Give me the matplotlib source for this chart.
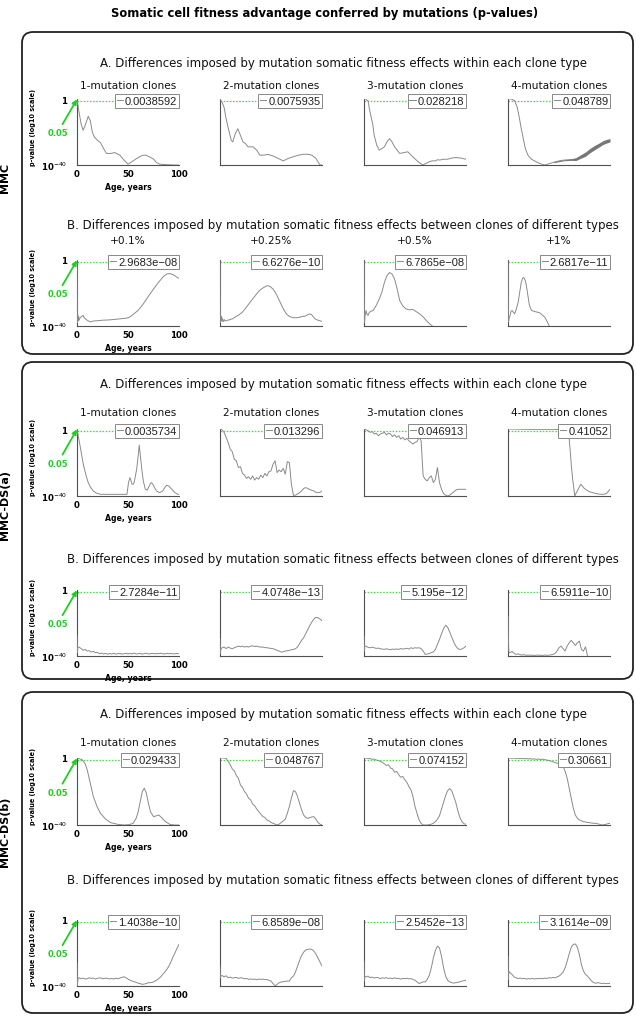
import numpy as np
import matplotlib
matplotlib.use("Agg")
import matplotlib.pyplot as plt
from matplotlib.patches import FancyBboxPatch
from matplotlib.ticker import NullLocator

# ---------------- texts ----------------
TITLE = "Somatic cell fitness advantage conferred by mutations (p-values)"
MODELS = ["MMC", "MMC-DS(a)", "MMC-DS(b)"]
SECTION_A = "A. Differences imposed by mutation somatic fitness effects within each clone type"
SECTION_B = "B. Differences imposed by mutation somatic fitness effects between clones of different types"
CLONE_TITLES = ["1-mutation clones", "2-mutation clones", "3-mutation clones", "4-mutation clones"]
EFFECT_TITLES = ["+0.1%", "+0.25%", "+0.5%", "+1%"]
XTICKS = [0, 50, 100]
XTICK_LABELS = ["0", "50", "100"]
YLABEL = "p-value (log10 scale)"
XLABEL = "Age, years"
THRESHOLD = 0.05

MMC_A_LEGEND = ["0.0038592", "0.0075935", "0.028218", "0.048789"]
MMC_B_LEGEND = ["2.9683e\u221208", "6.6276e\u221210", "6.7865e\u221208", "2.6817e\u221211"]
DSA_A_LEGEND = ["0.0035734", "0.013296", "0.046913", "0.41052"]
DSA_B_LEGEND = ["2.7284e\u221211", "4.0748e\u221213", "5.195e\u221212", "6.5911e\u221210"]
DSB_A_LEGEND = ["0.029433", "0.048767", "0.074152", "0.30661"]
DSB_B_LEGEND = ["1.4038e\u221210", "6.8589e\u221208", "2.5452e\u221213", "3.1614e\u221209"]

# ---------------- curves (age, log10 p-value) ----------------
STEP2 = list(range(0, 101, 2))
B_AGES = [0, 0.4, 0.8] + list(range(2, 101, 2))
B_AGES_78 = [0, 0.4, 0.8] + list(range(2, 79, 2))

# MMC, A
MMC_A1_AGE = [0, 2, 4, 6, 8, 11, 13, 15, 17, 20, 23, 26, 29, 33, 37, 42, 46, 50, 55, 60, 64, 67, 71, 75, 78, 81, 88, 95, 100]
MMC_A1_LOGP = [0, -8, -15, -19, -16, -10.5, -13, -20, -23, -25, -26.5, -30, -33, -33, -32.5, -34, -37, -39.5, -37.5, -35.5, -34.2, -34, -35, -36.4, -38.5, -39.5, -39.8, -40, -40]
MMC_A2_AGE = [0, 2, 4, 6, 9, 11, 12.5, 15, 17.5, 20, 22.5, 25, 27.5, 30, 32.5, 36, 39, 43, 47, 52, 57, 62, 67, 72, 77, 82, 86, 90, 94, 98, 100]
MMC_A2_LOGP = [0, -2, -5, -12, -20, -25, -26, -21, -18, -22, -26, -27, -29, -29, -29, -31, -34, -34, -33.6, -34.5, -36, -37.5, -36, -35, -34, -33.5, -33.5, -34, -36, -40, -40]
MMC_A3_AGE = [0, 2, 3, 4, 5, 7, 8.5, 10, 12.5, 15, 17.5, 20, 22.5, 25, 27.5, 30, 32.5, 35, 39, 43, 46, 49.5, 53, 57.5, 61, 64, 67, 70, 72, 74, 78, 82, 86, 90, 95, 100]
MMC_A3_LOGP = [0, 0, -1, -1, -5, -11, -15, -22, -28, -31, -30, -29, -26, -24, -26, -29, -31, -33, -32.5, -32, -34, -36, -38, -40, -39, -38, -37.5, -37.5, -36.8, -37, -36.5, -36.5, -35.8, -35.5, -35.8, -36.5]
MMC_A4_AGE = [0, 3, 6.5, 9, 11, 13, 15, 17, 19.5, 23, 27.5, 32, 36, 40, 44, 50, 55, 60, 66.5, 71, 76, 80, 85, 89, 93, 97, 100]
MMC_A4_LOGP = [0, 0, -1, -5, -11, -18, -24, -30, -34, -36.5, -38, -39.3, -40, -39.3, -38.5, -37.5, -37, -36.8, -36.5, -35, -33.5, -31.5, -29.5, -28, -26.5, -25.5, -25]
MMC_A4_BAND_AGE = [45, 55, 62, 66.5, 71, 76, 80, 85, 89, 93, 97, 100]
MMC_A4_BAND_HI = [-37.9, -36.8, -36.3, -35.6, -33.9, -32.1, -30.1, -28.1, -26.8, -25.3, -24.4, -24.0]
MMC_A4_BAND_LO = [-38.6, -37.4, -37.2, -37.3, -36.0, -34.7, -32.7, -30.7, -29.2, -27.6, -26.6, -26.0]

# MMC, B
MMC_B1_AGE = [0, 0.3, 0.6, 1, 1.5, 2, 3, 4, 5, 6, 7, 8, 10, 13, 16, 20, 25, 32, 40, 49, 52, 55, 60, 65, 70, 75, 80, 85, 88, 91, 94, 96, 98, 100]
MMC_B1_LOGP = [0, -38, -33, -37, -34, -36.5, -35, -34.5, -34, -33.5, -35, -35.5, -36.5, -37.5, -37, -36.8, -36.5, -36.3, -35.8, -35.2, -34.5, -33, -30.5, -26.6, -22, -17.6, -13.5, -9.8, -8.5, -8.2, -8.8, -9.6, -10.4, -11.2]
MMC_B2_AGE = [0, 0.5, 1, 1.5, 2, 3, 4, 5, 6, 8, 10, 12.5, 15, 18, 22, 26, 29, 32, 36, 39, 42, 45, 47, 49, 52, 55, 59, 62, 65, 68, 72, 75, 78.5, 81, 83.5, 86, 88, 90, 93, 96, 100]
MMC_B2_LOGP = [0, -38, -34, -37, -35, -37.5, -36, -37, -36.6, -36.5, -36, -35.6, -34.5, -33.5, -31.6, -28.5, -26, -23.6, -20.5, -18.3, -17, -15.9, -15.6, -16, -17.6, -20.5, -25.6, -29.5, -32.6, -34.2, -35, -35, -34.6, -34.2, -34, -33.2, -32.6, -33.3, -35.6, -36.5, -37.2]
MMC_B3_AGE = [0, 0.5, 1, 2, 3, 4, 5, 5.5, 7, 9, 12, 15, 17.5, 20, 22.5, 25, 27.5, 30, 32.5, 35, 38, 41, 44, 48, 51, 54.5, 58, 61, 64, 67]
MMC_B3_LOGP = [0, -38, -34, -30.6, -33, -33.6, -32, -31.6, -31, -30.6, -27.5, -23.6, -19.5, -13.6, -9.5, -7.6, -8.5, -11.6, -17.5, -24.6, -27.8, -29.6, -30.2, -30, -31.2, -32.6, -34.5, -36.6, -38.5, -40]
MMC_B4_AGE = [0, 0.5, 1, 2, 3, 4, 5, 6.5, 8, 10, 11.5, 13, 14.3, 15.5, 17, 18, 19.5, 21, 23, 26, 28, 31, 33, 36, 38.5, 40.5]
MMC_B4_LOGP = [0, -37.6, -36, -33.6, -31, -30.6, -31.5, -32.6, -30, -25.6, -19.5, -13.6, -11, -10.6, -12.5, -15.6, -21.5, -27.6, -30.5, -31.2, -31.5, -32, -33, -34.6, -37.5, -40]

# MMC-DS(a), A
DSA_A1_AGE = [0, 1.5, 3, 5, 6.5, 9, 11, 13.5, 16, 19, 23, 30, 40, 49, 50.5, 52, 53, 54, 55, 56, 57, 58.5, 60, 61, 62, 63.5, 65, 67, 69, 70, 72, 73, 74.5, 76, 78, 81, 84, 86, 88, 90, 93, 96, 99, 100]
DSA_A1_LOGP = [0, -5, -10, -17, -22, -28, -32, -35, -37, -38.3, -39, -39, -39, -39, -32, -29, -31, -33, -33, -32, -29, -24, -16, -9.6, -15, -24, -31, -36, -36.5, -35, -32.5, -32, -33, -35, -37, -38, -37, -35, -33.6, -34, -36, -38, -39, -39]
DSA_A2_LOGP = [0, -0.5, -2, -5, -8, -12, -13.5, -18, -19, -23,
               -22.5, -26.5, -27.5, -29.5, -28.5, -30, -28, -30.5, -29, -30,
               -27.5, -29, -26.5, -28, -25.5, -25, -21, -19, -26, -24.5,
               -25.5, -23.5, -27, -19.5, -20, -33, -39.6, -39.5, -38.8, -38,
               -37, -35.5, -35, -35.5, -36.2, -36.6, -37, -37.8, -38, -37.8,
               -37]
DSA_A3_LOGP = [0, -0.5, -1, -2, -1.5, -3, -2.5, -4, -3, -2.5,
               -2, -3.5, -2.5, -3, -4.5, -3.5, -5, -4, -6, -5,
               -6.5, -5.5, -7, -8, -9, -8, -7.5, -5, -7, -28,
               -30, -31, -29, -28, -32, -30, -23, -32, -36, -38.5,
               -39.5, -40, -39.5, -38.5, -37.5, -36.5, -36, -36, -36, -36,
               -36]
DSA_A4_AGE = [0, 20, 40, 55, 58.5, 60, 61, 62, 63.5, 65.5, 67, 68, 70, 71.5, 74, 76, 80, 83, 88, 92.5, 95, 96.5, 98, 100]
DSA_A4_LOGP = [0, -0.2, -0.2, -0.3, -0.4, -6, -13, -21, -30.5, -40, -38, -37, -34.5, -33, -35, -36, -37.5, -38, -38.8, -39, -38.8, -38.5, -37.5, -36]

# MMC-DS(a), B
DSA_B1_LOGP = [-27.6, -38, -35,
               -34.6, -35.5, -36.6, -36, -37, -36.8, -37.6, -37.2, -38, -37.8,
               -38.6, -38.2, -38.8, -38.4, -38.9, -38.5, -38.8, -38.3, -38.9, -38.6,
               -38.4, -38.9, -38.6, -38.3, -38.8, -38.5, -38.7, -38.2, -38.8, -38.6,
               -38.4, -38.9, -38.5, -38.3, -38.8, -38.6, -38.4, -38.7, -38.5, -38.6,
               -38.3, -38.6, -38.8, -38.4, -38.6, -38.5, -38.7, -38.6, -38.5, -38.6]
DSA_B2_LOGP = [-29.6, -38.6, -36,
               -35, -34.6, -35.5, -34.6, -35.2, -35.6, -35, -34.5, -34, -34.4,
               -34, -34.6, -34.2, -34.6, -34, -33.8, -34.3, -34, -34.4, -34.6,
               -34.6, -34.9, -35, -35.2, -35.4, -35.6, -36, -36.6, -37, -37.6,
               -37.4, -37, -36.8, -36.6, -36.2, -36, -35.6, -34.5, -32.5, -30.5,
               -29, -26.5, -24, -21.6, -19.5, -17.6, -16.6, -16.8, -17.6, -18.6]
DSA_B3_LOGP = [-28, -37, -34,
               -34, -34.8, -35, -34.6, -35, -35.4, -35.2, -35.6, -35.8, -36,
               -35.6, -36, -36.2, -35.8, -36, -35.7, -36, -35.5, -35.8, -35.6,
               -35.3, -35.8, -35, -35.4, -35, -35.2, -35, -35.5, -37, -39,
               -38.8, -38.5, -38, -37.5, -36, -33, -30, -26.5, -23.5, -21.4,
               -22.5, -25.5, -28.5, -31.5, -34, -35.5, -36, -35.8, -35, -34]
DSA_B4_LOGP = [-16, -30, -37.5,
               -38, -37.2, -38.5, -39, -38.7, -39.2, -39.4, -39.2, -39.6, -39.4,
               -39.6, -39.5, -39.7, -39.4, -39.6, -39.5, -39.7, -39.4, -39.6, -39.5,
               -39.3, -39, -38.5, -37, -35, -34, -35.5, -37, -34, -32,
               -30.5, -32, -33.6, -32, -31, -36, -37, -34.4, -40]

# MMC-DS(b), A
DSB_A1_AGE = [0, 5, 8, 10, 13, 16, 20, 23, 28, 33, 40, 46, 51, 55, 58, 60, 62, 64, 66, 68, 70, 72, 75, 78, 80, 82, 85, 88, 91, 95, 100]
DSB_A1_LOGP = [0, -1, -3.5, -7, -15, -23, -29.5, -33, -36.5, -38.6, -39.6, -40, -39.8, -39, -36, -32, -26, -20, -18, -21, -27, -32, -35, -34.5, -34, -35, -37, -38.5, -39.6, -40, -40]
DSB_A2_LOGP = [0, 0, 0, -0.3, -2, -4, -6.5, -7.5, -10.5, -12,
               -16, -17.5, -20, -21.5, -24, -25, -27.5, -28.5, -30.5, -32,
               -33.5, -35, -35.5, -37, -37.5, -38.5, -39, -39.5, -40, -39.5,
               -38.5, -37.5, -36.6, -33, -29, -24, -19.5, -20, -23, -27,
               -31, -34, -35.5, -36, -35.6, -35.2, -35, -36.5, -38.5, -39.5,
               -40]
DSB_A3_LOGP = [0, 0, -0.3, -0.4, -0.8, -0.6, -1.2, -1.5, -2, -2.5,
               -3.5, -4.5, -4, -6, -6.5, -8.5, -8, -10, -11.5, -11,
               -13, -14.5, -17, -19, -23, -29, -33, -37, -39, -40,
               -40, -40, -39.8, -39.5, -39, -38, -36.5, -34.5, -30.5, -26.5,
               -22.5, -19.5, -18.3, -19.5, -23, -26.6, -31.5, -35.5, -38, -39.3,
               -39.5]
DSB_A4_LOGP = [0, 0, -0.2, 0, -0.3, -0.1, -0.4, -0.2, -0.5, -0.3,
               -0.6, -0.4, -0.7, -0.5, -0.8, -0.6, -0.9, -0.7, -1, -1.2,
               -1.5, -1.8, -2.2, -2.8, -3, -3.5, -4, -5, -8, -12,
               -18, -24, -30, -34, -36, -37, -37.5, -38, -38.2, -38.5,
               -38.6, -38.8, -39, -39, -39.3, -39.6, -40, -39.8, -39.6, -39.2,
               -39]

# MMC-DS(b), B
DSB_B1_LOGP = [-26, -39.6, -36,
               -35, -35.6, -35.2, -35.8, -35.6, -35, -35.4, -35.2, -35.8, -35.4,
               -35, -35.3, -35.6, -35.2, -35.5, -35.7, -35.4, -35.8, -35.3, -35.6,
               -35.2, -34.8, -34.4, -35, -35.8, -36.5, -37, -37.4, -37.8, -38.3,
               -38.6, -39, -38.8, -38.5, -38, -38, -37.8, -37.2, -36.5, -35.5,
               -34.5, -33, -31.5, -30, -28, -25.5, -22.5, -20, -17.2, -14.7]
DSB_B2_LOGP = [-28, -35, -34,
               -33.6, -34.5, -33.8, -35, -34.6, -35.2, -35, -34.8, -35.4, -35,
               -35.2, -35.6, -35.4, -36, -35.7, -36, -35.8, -36.2, -35.8, -36,
               -35.8, -36.2, -36, -36.6, -37, -38.5, -40, -39, -38, -37.6,
               -37.4, -37.2, -37, -37, -35, -34, -31.5, -28, -24.5, -21.5,
               -19.5, -18.2, -17.8, -17.6, -17.8, -18.8, -20.6, -23, -25.5, -27.9]
DSB_B3_LOGP = [-25, -37, -34,
               -34.5, -34, -35, -34.6, -35.2, -34.8, -35, -35.5, -35, -35.3,
               -35, -35.4, -35.2, -35.6, -35, -35.5, -35.3, -35.8, -35.4, -35.6,
               -35.3, -35.7, -35.5, -36, -36.5, -37.5, -38.5, -38, -37.5, -37.5,
               -36, -33.5, -29, -23, -18.5, -15.8, -17, -22, -29, -34,
               -36.5, -37.5, -38, -38.2, -38, -37.8, -37.5, -37, -36.8, -36.5]
DSB_B4_LOGP = [-22, -36, -31,
               -32, -33, -34.5, -35, -35.5, -35.2, -35.6, -35.4, -35.8, -35.5,
               -35.7, -35.4, -35.8, -35.5, -35.6, -35.3, -35.6, -35.2, -35.4, -35,
               -35.2, -34.8, -35, -34.5, -34, -33, -31.5, -29, -25, -20.5,
               -16.5, -14.8, -14.5, -16.5, -21, -27, -31, -33, -34, -35.5,
               -37, -38, -38.3, -38, -38.2, -38.5, -38.3, -38.6, -38.4, -38.5]

# ---------------- assemble rows ----------------
ROWS = [
    dict(curves=[(MMC_A1_AGE, MMC_A1_LOGP), (MMC_A2_AGE, MMC_A2_LOGP), (MMC_A3_AGE, MMC_A3_LOGP), (MMC_A4_AGE, MMC_A4_LOGP)],
         legend=MMC_A_LEGEND, titles=CLONE_TITLES, section=SECTION_A),
    dict(curves=[(MMC_B1_AGE, MMC_B1_LOGP), (MMC_B2_AGE, MMC_B2_LOGP), (MMC_B3_AGE, MMC_B3_LOGP), (MMC_B4_AGE, MMC_B4_LOGP)],
         legend=MMC_B_LEGEND, titles=EFFECT_TITLES, section=SECTION_B),
    dict(curves=[(DSA_A1_AGE, DSA_A1_LOGP), (STEP2, DSA_A2_LOGP), (STEP2, DSA_A3_LOGP), (DSA_A4_AGE, DSA_A4_LOGP)],
         legend=DSA_A_LEGEND, titles=CLONE_TITLES, section=SECTION_A),
    dict(curves=[(B_AGES, DSA_B1_LOGP), (B_AGES, DSA_B2_LOGP), (B_AGES, DSA_B3_LOGP), (B_AGES_78, DSA_B4_LOGP)],
         legend=DSA_B_LEGEND, titles=None, section=SECTION_B),
    dict(curves=[(DSB_A1_AGE, DSB_A1_LOGP), (STEP2, DSB_A2_LOGP), (STEP2, DSB_A3_LOGP), (STEP2, DSB_A4_LOGP)],
         legend=DSB_A_LEGEND, titles=CLONE_TITLES, section=SECTION_A),
    dict(curves=[(B_AGES, DSB_B1_LOGP), (B_AGES, DSB_B2_LOGP), (B_AGES, DSB_B3_LOGP), (B_AGES, DSB_B4_LOGP)],
         legend=DSB_B_LEGEND, titles=None, section=SECTION_B),
]

# ---------------- layout (pixels) ----------------
W, H = 636, 1020
ROW_TOPS = [100, 261, 430, 591, 759, 921]
ROW_BOTS = [166, 327, 497, 657, 826, 987]
SECTION_Y = [63, 225, 385, 560, 715, 881]
SUBTITLE_Y = [86, 241, 413, None, 743, None]
COL_LEFTS = [77, 220, 364, 508]
AX_W = 102
SECTION_X = 343
PANELS = [(33, 355), (363, 680), (693, 1014)]
MODEL_Y = [178, 505, 832]

LINE_C = "#8a8a8a"
GREEN = "#22cc22"
DOT_GREEN = "#3fdf3f"
SPINE_C = "#505050"

fig = plt.figure(figsize=(W / 100, H / 100), dpi=100)
bg = fig.add_axes([0, 0, 1, 1], zorder=0)
bg.set_xlim(0, W)
bg.set_ylim(H, 0)
bg.axis("off")

bg.text(325, 13, TITLE, ha="center", va="center", fontsize=8.3, fontweight="bold", family="DejaVu Sans")

for (ptop, pbot), name, my in zip(PANELS, MODELS, MODEL_Y):
    box = FancyBboxPatch((22, ptop), 611, pbot - ptop, boxstyle="round,pad=0,rounding_size=11",
                         fc="none", ec="#222222", lw=1.3)
    bg.add_patch(box)
    bg.text(5, my, name, rotation=90, ha="center", va="center", fontsize=8, fontweight="bold")

for r, row in enumerate(ROWS):
    top, bot = ROW_TOPS[r], ROW_BOTS[r]
    bg.text(SECTION_X, SECTION_Y[r], row["section"], ha="center", va="center", fontsize=8.5, color="#111111")
    for c in range(4):
        left = COL_LEFTS[c]
        ax = fig.add_axes([left / W, 1 - bot / H, AX_W / W, (bot - top) / H], zorder=2)
        ax.patch.set_alpha(0)
        ages, logp = row["curves"][c]
        ax.axhline(THRESHOLD, color=DOT_GREEN, ls=(0, (1.2, 1.3)), lw=0.9, zorder=2)
        ax.plot(ages, 10.0 ** np.array(logp), color=LINE_C, lw=0.7, label=row["legend"][c], zorder=3)
        if r == 0 and c == 3:
            ax.fill_between(MMC_A4_BAND_AGE, 10.0 ** np.array(MMC_A4_BAND_LO), 10.0 ** np.array(MMC_A4_BAND_HI),
                            color="#777777", lw=0, zorder=3)
        ax.set_yscale("log")
        ax.set_ylim(1e-40, 1)
        ax.set_xlim(0, 100)
        for s in ["top", "right"]:
            ax.spines[s].set_visible(False)
        for s in ["left", "bottom"]:
            ax.spines[s].set_color(SPINE_C)
            ax.spines[s].set_linewidth(0.8)
        ax.yaxis.set_minor_locator(NullLocator())
        ax.tick_params(which="both", length=0)
        if c == 0:
            ax.set_xticks(XTICKS)
            ax.set_xticklabels(XTICK_LABELS, fontsize=6.2, fontweight="bold")
            ax.set_yticks([1e-40, 1])
            ax.set_yticklabels([r"$\mathbf{10}^{-40}$", "1"], fontsize=6.2, fontweight="bold")
            ax.tick_params(axis="x", pad=3)
            ax.tick_params(axis="y", pad=7)
            bg.text(left + AX_W / 2, bot + 22, XLABEL, ha="center", va="center", fontsize=5.6, fontweight="bold")
            bg.text(33, (top + bot) / 2 - 6, YLABEL, rotation=90, ha="center", va="center", fontsize=4.7, fontweight="bold")
            ax.annotate("0.05", xy=(0, 0.995), xycoords="axes fraction", xytext=(-0.19, 0.49),
                        textcoords="axes fraction", ha="center", va="center", color=GREEN,
                        fontsize=6, fontweight="bold", annotation_clip=False,
                        arrowprops=dict(arrowstyle="-|>,head_length=0.45,head_width=0.22", color=GREEN,
                                        lw=1.3, shrinkA=1, shrinkB=0))
        else:
            ax.set_xticks([])
            ax.set_yticks([])
        if row["titles"] is not None:
            bg.text(left + AX_W / 2, SUBTITLE_Y[r], row["titles"][c], ha="center", va="center", fontsize=7.6, color="#111111")
        leg = ax.legend(loc="upper right", bbox_to_anchor=(1.0, 1.07), prop={"family": "Liberation Sans", "size": 8},
                        frameon=True, fancybox=False, borderpad=0.15, handlelength=0.55, handletextpad=0.2,
                        borderaxespad=0, framealpha=1, edgecolor="#888888")
        leg.get_frame().set_linewidth(0.7)
        for t in leg.get_texts():
            t.set_color("#222222")
        leg.set_zorder(5)

fig.savefig("out.png", dpi=100)
